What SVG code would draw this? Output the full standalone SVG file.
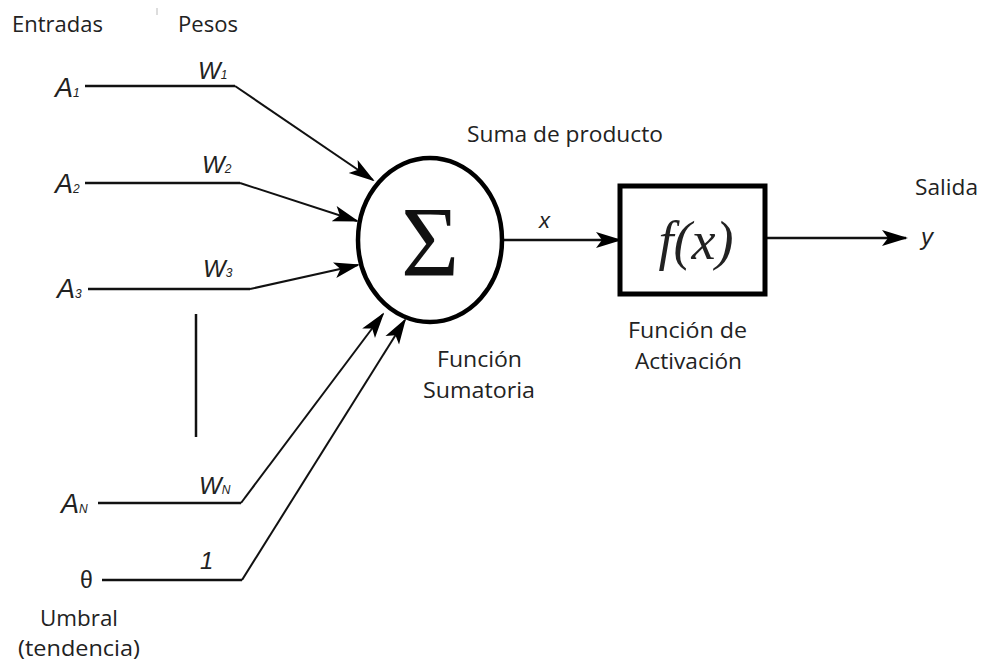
<svg xmlns="http://www.w3.org/2000/svg" width="984" height="668" viewBox="0 0 984 668">
<defs>
<marker id="arr2" markerWidth="26" markerHeight="18" refX="24" refY="9" orient="auto" markerUnits="userSpaceOnUse" viewBox="0 0 26 18">
<path d="M0,1 L26,9 L0,17 L6,9 Z" fill="#000"/>
</marker>
</defs>
<style>
.lbl{font-family:"Open Sans","Liberation Sans",sans-serif;font-size:21px;fill:#222}
.var{font-family:"Liberation Sans",Arial,sans-serif;font-style:italic;font-size:27px;fill:#222}
.sub{font-family:"Liberation Sans",Arial,sans-serif;font-style:italic;font-size:12px;fill:#222}
.w{font-family:"Liberation Sans",Arial,sans-serif;font-style:italic;font-size:24px;fill:#222}
.ln{fill:none;stroke:#111;stroke-width:2.5}
.dl{fill:none;stroke:#111;stroke-width:2}
</style>
<rect width="984" height="668" fill="#fff"/>
<line x1="157" y1="8" x2="157" y2="15" stroke="#bbb" stroke-width="1"/>
<text class="lbl" x="12" y="32" textLength="91" lengthAdjust="spacingAndGlyphs">Entradas</text>
<text class="lbl" x="178" y="32" textLength="60" lengthAdjust="spacingAndGlyphs">Pesos</text>
<g id="inputs">
<text class="var" x="55" y="97">A<tspan class="sub">1</tspan></text>
<text class="var" x="55" y="193">A<tspan class="sub">2</tspan></text>
<text class="var" x="57" y="298">A<tspan class="sub">3</tspan></text>
<text class="var" x="61" y="513">A<tspan class="sub">N</tspan></text>
<text class="var" x="80" y="588" style="font-style:normal;font-size:23px">θ</text>
</g>
<g id="weights">
<text class="w" x="198" y="79">W<tspan class="sub">1</tspan></text>
<text class="w" x="202" y="173">W<tspan class="sub">2</tspan></text>
<text class="w" x="203" y="277">W<tspan class="sub">3</tspan></text>
<text class="w" x="199" y="494">W<tspan class="sub">N</tspan></text>
<text class="w" x="200" y="569">1</text>
</g>
<g id="connectors">
<polyline class="ln" points="85,86 235,86" /><line class="dl" x1="235" y1="86" x2="373" y2="180" marker-end="url(#arr2)"/>
<polyline class="ln" points="85,183 240,183" /><line class="dl" x1="240" y1="183" x2="357" y2="221" marker-end="url(#arr2)"/>
<polyline class="ln" points="88,289 250,289" /><line class="dl" x1="250" y1="289" x2="358" y2="265" marker-end="url(#arr2)"/>
<line x1="196" y1="314" x2="196" y2="437" stroke="#111" stroke-width="2.5"/>
<polyline class="ln" points="98,503 241,503" /><line class="dl" x1="241" y1="503" x2="383" y2="314" marker-end="url(#arr2)"/>
<polyline class="ln" points="102,580 242,580" /><line class="dl" x1="242" y1="580" x2="405" y2="320" marker-end="url(#arr2)"/>
<line class="ln" x1="503" y1="240" x2="620" y2="240" marker-end="url(#arr2)"/>
<line class="ln" x1="765" y1="238" x2="906" y2="238" marker-end="url(#arr2)"/>
</g>
<g id="sum">
<ellipse cx="430" cy="240" rx="72" ry="82" fill="#fff" stroke="#000" stroke-width="4.5"/>
<text x="430" y="275" text-anchor="middle" style="font-family:'Liberation Serif','Times New Roman',serif;font-size:100px;fill:#111">Σ</text>
</g>
<g id="activation">
<rect x="620" y="186" width="145" height="108" fill="#fff" stroke="#000" stroke-width="5"/>
<text x="696" y="259" text-anchor="middle" style="font-family:'Liberation Serif','Times New Roman',serif;font-style:italic;font-size:54px;fill:#222">f(x)</text>
</g>
<text class="w" x="539" y="228" style="font-size:22px">x</text>
<text class="w" x="921" y="245" style="font-size:24px">y</text>
<text class="lbl" x="467" y="142" textLength="196" lengthAdjust="spacingAndGlyphs">Suma de producto</text>
<text class="lbl" x="915" y="195" textLength="63" lengthAdjust="spacingAndGlyphs">Salida</text>
<text class="lbl" x="437" y="367" textLength="85" lengthAdjust="spacingAndGlyphs">Función</text>
<text class="lbl" x="423" y="398" textLength="112" lengthAdjust="spacingAndGlyphs">Sumatoria</text>
<text class="lbl" x="628" y="338" textLength="119" lengthAdjust="spacingAndGlyphs">Función de</text>
<text class="lbl" x="635" y="369" textLength="107" lengthAdjust="spacingAndGlyphs">Activación</text>
<text class="lbl" x="40" y="626" textLength="78" lengthAdjust="spacingAndGlyphs">Umbral</text>
<text class="lbl" x="18" y="656" textLength="122" lengthAdjust="spacingAndGlyphs">(tendencia)</text>
</svg>
